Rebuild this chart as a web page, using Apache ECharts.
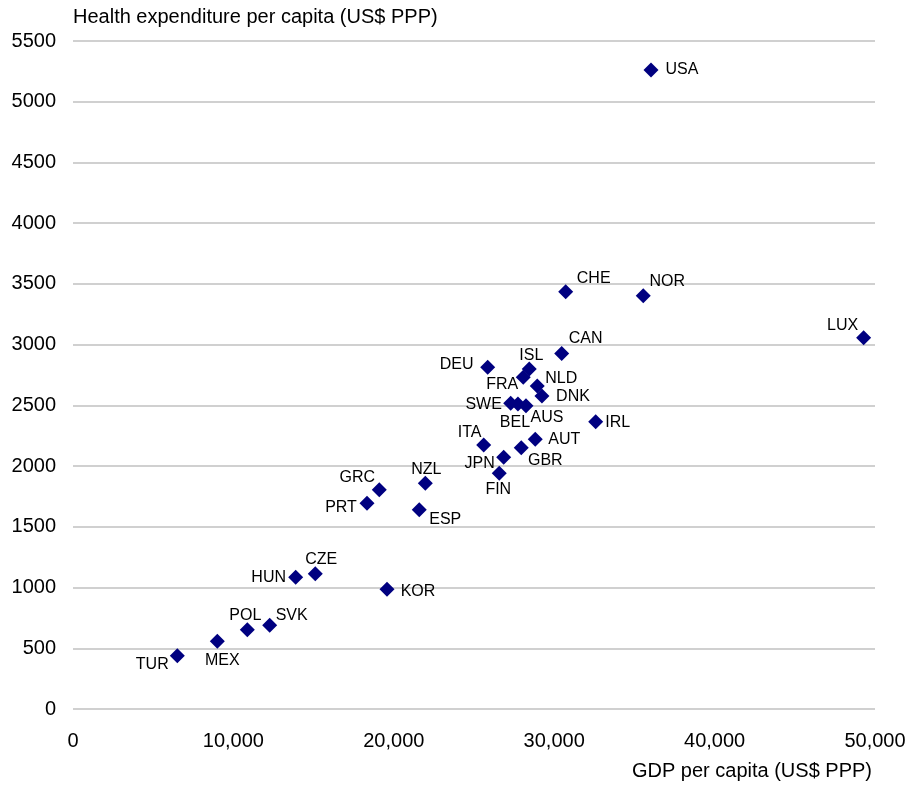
<!DOCTYPE html>
<html>
<head>
<meta charset="utf-8">
<script src="https://cdn.jsdelivr.net/npm/echarts@6/dist/echarts.min.js"></script>
<style>
    html, body { margin: 0; padding: 0; background: #fff; }
    #chart { width: 913px; height: 788px; }
</style>
</head>
<body>
<div id="chart"></div>
<script>
// country codes, GDP per capita and health expenditure per capita (US$ PPP)
var countries = ['USA', 'CHE', 'NOR', 'LUX', 'CAN', 'DEU', 'ISL', 'FRA', 'NLD', 'DNK',
                 'SWE', 'BEL', 'AUS', 'IRL', 'ITA', 'AUT', 'GBR', 'JPN', 'FIN', 'NZL',
                 'GRC', 'PRT', 'ESP', 'CZE', 'HUN', 'KOR', 'SVK', 'POL', 'MEX', 'TUR'];
var gdp = [36035, 30715, 35553, 49292, 30466, 25853, 28446, 28072, 28945, 29237,
           27286, 27741, 28240, 32585, 25603, 28820, 27947, 26850, 26575, 21963,
           19095, 18328, 21588, 15105, 13883, 19575, 12262, 10866, 8996, 6502];
var health = [5262, 3436, 3403, 3057, 2926, 2814, 2800, 2731, 2660, 2577,
              2517, 2511, 2497, 2366, 2174, 2221, 2152, 2073, 1941, 1858,
              1806, 1694, 1641, 1114, 1084, 986, 689, 653, 557, 439];

// label placement (offset of label centre from the marker)
var labelOffsets = {
    USA: [31, 0], CHE: [28, -13], NOR: [24, -14], LUX: [-21, -12], CAN: [24, -15],
    DEU: [-31, -3], ISL: [2, -13], FRA: [-21, 7], NLD: [24, -7], DNK: [31, 1],
    SWE: [-27, 1], BEL: [-3, 19], AUS: [21, 12], IRL: [22, 1], ITA: [-14, -12],
    AUT: [29, 0], GBR: [24, 13], JPN: [-24, 6], FIN: [-1, 16], NZL: [1, -14],
    GRC: [-22, -12], PRT: [-26, 4], ESP: [26, 10], CZE: [6, -14], HUN: [-27, 0],
    KOR: [31, 2], SVK: [22, -10], POL: [-2, -14], MEX: [5, 19], TUR: [-25, 9]
};

var points = countries.map(function (c, i) {
    return {
        name: c,
        value: [gdp[i], health[i]],
        label: { offset: labelOffsets[c] }
    };
});

var myChart = echarts.init(document.getElementById('chart'));

var font = 'Liberation Sans, Arial, sans-serif';

option = {
    animation: false,
    backgroundColor: '#fff',
    textStyle: { fontFamily: font },
    grid: { left: 73, right: 38, top: 41, bottom: 79 },
    xAxis: {
        type: 'value',
        min: 0,
        max: 50000,
        interval: 10000,
        axisLine: { show: false },
        axisTick: { show: false },
        splitLine: { show: false },
        axisLabel: {
            color: '#000',
            fontSize: 20,
            fontFamily: font,
            margin: 22,
            formatter: function (v) { return v.toLocaleString('en-US'); }
        }
    },
    yAxis: {
        type: 'value',
        min: 0,
        max: 5500,
        interval: 500,
        name: 'Health expenditure per capita (US$ PPP)',
        nameLocation: 'end',
        nameGap: 14,
        nameTextStyle: { color: '#000', fontSize: 20, fontFamily: font, align: 'left' },
        axisLine: { show: false },
        axisTick: { show: false },
        splitLine: { lineStyle: { color: '#c0c0c0', width: 1.5 } },
        axisLabel: {
            color: '#000', fontSize: 20, fontFamily: font, margin: 17,
            formatter: function (v) { return String(v); }
        }
    },
    graphic: [{
        type: 'text',
        right: 41,
        top: 761,
        style: { text: 'GDP per capita (US$ PPP)', fill: '#000', fontSize: 20, fontFamily: font }
    }],
    series: [{
        type: 'scatter',
        symbol: 'diamond',
        symbolSize: 15,
        itemStyle: { color: '#000080', opacity: 1 },
        label: {
            show: true,
            position: 'inside',
            formatter: '{b}',
            color: '#000',
            fontSize: 16,
            fontFamily: font
        },
        data: points
    }]
};

myChart.setOption(option);
</script>
</body>
</html>
